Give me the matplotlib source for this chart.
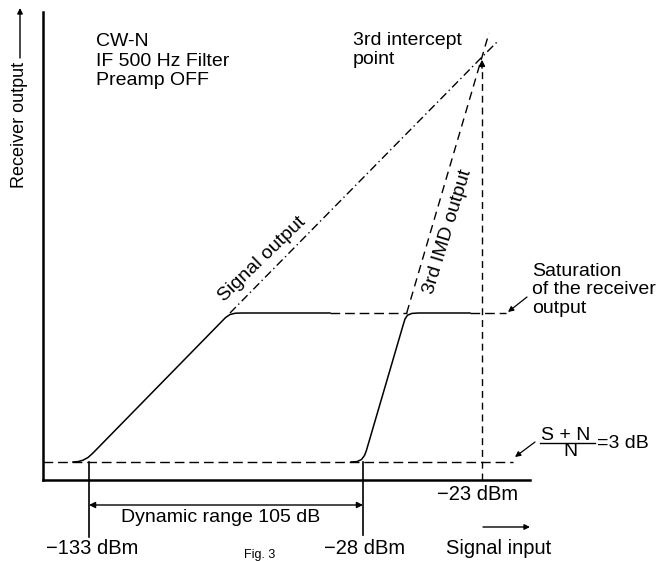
import matplotlib.pyplot as plt

plt.rcParams['font.family'] = ['Liberation Sans', 'DejaVu Sans']

# schematic units: x = signal input, y = receiver output (diagram is not to scale)
noise_floor = 18
saturation = 167
x_133, x_28, x_23 = 46, 320, 439     # positions of the marked input levels
intercept_y = 423

tick_labels = ['\u2212133 dBm', '\u221228 dBm', '\u221223 dBm']
info_lines = ['CW-N', 'IF 500 Hz Filter', 'Preamp OFF']

# signal output curve (solid)
sig_x = [30, 35, 40, 45, 49.6, 178.6, 182.5, 187, 192.5, 199, 287]
sig_y = [18, 18.4, 19.8, 22.5, 26.6, 158.4, 162.4, 165.5, 166.8, 167, 167]
# 3rd IMD output curve (solid)
imd_x = [308, 314, 318.5, 321.5, 323.4, 360.3, 362, 364.5, 369, 375.7, 427]
imd_y = [18, 18.4, 20.5, 24.5, 29.5, 155.5, 161, 164.8, 166.6, 167, 167]
# extrapolated lines through the 3rd order intercept point
sig_ext_x = [187, 439, 454]
sig_ext_y = [167, 423, 438]
imd_ext_x = [363.7, 439, 446]
imd_ext_y = [167, 423, 447]

fig = plt.figure(figsize=(6.71, 5.61), dpi=100)
ax = fig.add_axes([43 / 671, 81 / 561, 487 / 671, 468 / 561])
ax.set_xlim(0, 487)
ax.set_ylim(0, 468)
for s in ['top', 'right']:
    ax.spines[s].set_visible(False)
for s in ['left', 'bottom']:
    ax.spines[s].set_linewidth(1.8)
ax.set_xticks([])
ax.set_yticks([])

k = dict(color='black', clip_on=False)
fs = 14
fs_lvl = 14.5

# reference levels
ax.plot([0, 470], [noise_floor, noise_floor], lw=1.0, dashes=(7, 3.5), **k)
ax.plot([287, 364], [saturation, saturation], lw=1.0, dashes=(7, 3.5), **k)
ax.plot([427, 463], [saturation, saturation], lw=1.0, dashes=(7, 3.5), **k)

# curves
ax.plot(sig_x, sig_y, lw=1.1, **k)
ax.plot(imd_x, imd_y, lw=1.1, **k)
ax.plot(sig_ext_x, sig_ext_y, lw=1.0, dashes=(6, 2.5, 1, 2.5), **k)
ax.plot(imd_ext_x, imd_ext_y, lw=1.0, dashes=(6, 4), **k)

# -23 dBm drop line with arrow at the intercept
ax.plot([x_23, x_23], [0, intercept_y - 8], lw=1.0, dashes=(5, 3.5), **k)
ax.annotate('', xy=(x_23, intercept_y), xytext=(x_23, intercept_y - 14),
            arrowprops=dict(arrowstyle='-|>', color='black', lw=1.0, mutation_scale=9))

# dynamic range markers
ax.plot([x_133, x_133], [noise_floor, -57], lw=1.2, **k)
ax.plot([x_28, x_28], [noise_floor, -55], lw=1.2, **k)
ax.annotate('', xy=(x_133, -25), xytext=(x_28, -25),
            arrowprops=dict(arrowstyle='<|-|>', color='black', lw=1.0, mutation_scale=9,
                            shrinkA=0, shrinkB=0), annotation_clip=False)
ax.text((x_133 + x_28) / 2 - 5, -38, 'Dynamic range 105 dB', ha='center', va='center', fontsize=fs)

ax.text(x_133 + 3, -68, tick_labels[0], ha='center', va='center', fontsize=fs_lvl)
ax.text(x_28 + 2, -68, tick_labels[1], ha='center', va='center', fontsize=fs_lvl)
ax.text(x_23 - 4, -15, tick_labels[2], ha='center', va='center', fontsize=fs_lvl)

# axis titles
ax.text(456, -68, 'Signal input', ha='center', va='center', fontsize=fs_lvl)
ax.annotate('', xy=(487, -47), xytext=(440, -47),
            arrowprops=dict(arrowstyle='-|>', color='black', lw=1.0, mutation_scale=8,
                            shrinkA=0, shrinkB=0), annotation_clip=False)
ax.text(-23, 355, 'Receiver output', rotation=90, ha='center', va='center', fontsize=13)
ax.annotate('', xy=(-23, 472), xytext=(-23, 422),
            arrowprops=dict(arrowstyle='-|>', color='black', lw=1.0, mutation_scale=8,
                            shrinkA=0, shrinkB=0), annotation_clip=False)

# labels
ax.text(53, 419, '\n'.join(info_lines), ha='left', va='center', fontsize=fs, linespacing=1.2)
ax.text(310, 430, '3rd intercept\npoint', ha='left', va='center', fontsize=fs, linespacing=1.2)
ax.text(219, 221, 'Signal output', rotation=44, ha='center', va='center',
        rotation_mode='anchor', fontsize=fs)
ax.text(405, 248, '3rd IMD output', rotation=73, ha='center', va='center',
        rotation_mode='anchor', fontsize=fs)
ax.text(489, 190, 'Saturation\nof the receiver\noutput', ha='left', va='center',
        fontsize=fs, linespacing=1.15)
ax.annotate('', xy=(465, 168), xytext=(484, 183),
            arrowprops=dict(arrowstyle='-|>', color='black', lw=0.9, mutation_scale=8,
                            shrinkA=0, shrinkB=0), annotation_clip=False)

# S+N / N = 3 dB
ax.text(523, 44, 'S + N', ha='center', va='center', fontsize=fs)
ax.plot([497, 552], [37, 37], lw=1.0, **k)
ax.text(527, 28, 'N', ha='center', va='center', fontsize=fs)
ax.text(554, 37, '=3 dB', ha='left', va='center', fontsize=fs)
ax.annotate('', xy=(472, 23), xytext=(492, 38),
            arrowprops=dict(arrowstyle='-|>', color='black', lw=0.9, mutation_scale=8,
                            shrinkA=0, shrinkB=0), annotation_clip=False)

ax.text(217, -81, 'Fig. 3', ha='center', va='bottom', fontsize=9)

fig.savefig('out.png', dpi=100)
